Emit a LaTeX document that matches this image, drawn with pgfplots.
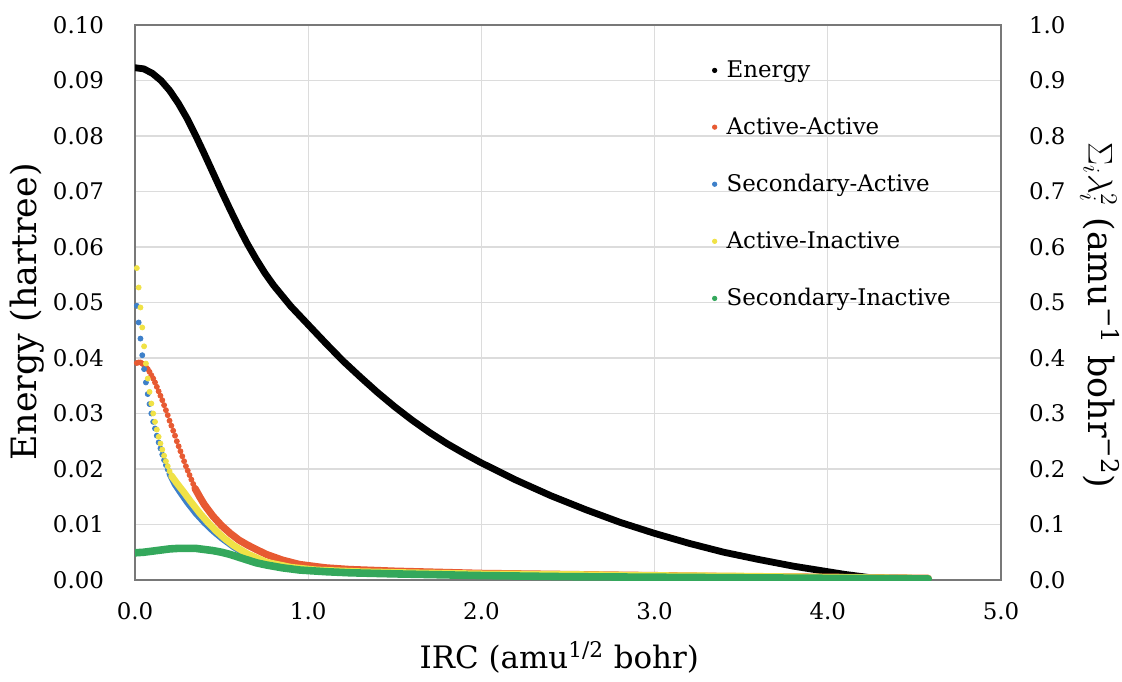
\documentclass[border=0pt]{standalone}
\usepackage{pgfplots}
\pgfplotsset{compat=1.18}
\usepackage{pgfplotstable}
\usepackage{fontspec}
\setmainfont{DejaVu Serif}
\definecolor{cRed}{RGB}{231,90,50}
\definecolor{cBlue}{RGB}{62,128,201}
\definecolor{cYel}{RGB}{240,226,70}
\definecolor{cGrn}{RGB}{52,168,92}
\definecolor{cGrid}{RGB}{220,220,220}
\definecolor{cFrame}{RGB}{120,120,120}

\pgfplotstableread{
x y
0.00 0.0923
0.05 0.0921
0.10 0.0913
0.15 0.0900
0.20 0.0882
0.25 0.0859
0.30 0.0832
0.35 0.0801
0.40 0.0768
0.45 0.0734
0.50 0.0700
0.55 0.0667
0.60 0.0635
0.65 0.0605
0.70 0.0578
0.75 0.0553
0.80 0.0531
0.90 0.0493
1.00 0.0460
1.10 0.0427
1.20 0.0395
1.30 0.0366
1.40 0.0338
1.50 0.0312
1.60 0.0288
1.70 0.0266
1.80 0.0246
1.90 0.0228
2.00 0.0211
2.20 0.0180
2.40 0.0152
2.60 0.0127
2.80 0.0104
3.00 0.0084
3.20 0.0066
3.40 0.0050
3.60 0.0037
3.80 0.0025
4.00 0.0015
4.10 0.0010
4.20 0.0006
4.30 0.0002
4.40 0.0000
4.58 0.0000
}\energy

\pgfplotstableread{
x y
0.0105 0.391
0.0210 0.392
0.0315 0.392
0.0420 0.390
0.0525 0.387
0.0630 0.384
0.0735 0.380
0.0840 0.375
0.0945 0.369
0.1050 0.363
0.1155 0.356
0.1260 0.348
0.1365 0.340
0.1470 0.332
0.1575 0.324
0.1680 0.315
0.1785 0.306
0.1890 0.297
0.1995 0.287
0.2100 0.278
0.2205 0.269
0.2310 0.260
0.2415 0.250
0.2520 0.241
0.2625 0.232
0.2730 0.223
0.2835 0.214
0.2940 0.205
0.3045 0.197
0.3150 0.189
0.3255 0.181
0.3360 0.173
0.3465 0.165
}\redDots

\pgfplotstableread{
x y
0.3465 0.165
0.375 0.149
0.40 0.136
0.45 0.115
0.50 0.098
0.55 0.084
0.60 0.072
0.65 0.063
0.70 0.055
0.76 0.046
0.85 0.036
0.95 0.028
1.10 0.022
1.24 0.019
1.50 0.016
2.00 0.012
2.50 0.010
3.00 0.008
3.50 0.006
4.00 0.005
4.58 0.003
}\redLine

\pgfplotstableread{
x y
0.0105 0.494
0.0210 0.464
0.0315 0.435
0.0420 0.405
0.0525 0.380
0.0630 0.356
0.0735 0.335
0.0840 0.317
0.0945 0.300
0.1050 0.285
0.1155 0.273
0.1260 0.260
0.1365 0.248
0.1470 0.237
0.1575 0.226
0.1680 0.216
0.1785 0.207
0.1890 0.199
0.1995 0.191
}\blueDots

\pgfplotstableread{
x y
0.1995 0.191
0.23 0.172
0.26 0.158
0.30 0.140
0.35 0.120
0.40 0.103
0.45 0.088
0.50 0.075
0.57 0.059
0.65 0.044
0.76 0.031
0.90 0.022
1.05 0.017
1.30 0.014
1.60 0.012
2.00 0.010
2.50 0.009
3.00 0.007
3.50 0.006
4.00 0.005
4.58 0.003
}\blueLine

\pgfplotstableread{
x y
0.0105 0.562
0.0210 0.527
0.0315 0.491
0.0420 0.455
0.0525 0.421
0.0630 0.390
0.0735 0.363
0.0840 0.339
0.0945 0.318
0.1050 0.300
0.1155 0.285
0.1260 0.271
0.1365 0.258
0.1470 0.246
0.1575 0.235
0.1680 0.224
0.1785 0.214
0.1890 0.205
0.1995 0.196
0.2100 0.188
}\yelDots

\pgfplotstableread{
x y
0.2100 0.188
0.24 0.175
0.28 0.159
0.32 0.142
0.375 0.120
0.42 0.104
0.47 0.088
0.52 0.074
0.57 0.062
0.65 0.047
0.76 0.032
0.90 0.023
1.05 0.018
1.30 0.015
1.60 0.013
2.00 0.011
2.50 0.010
3.00 0.008
3.50 0.007
4.00 0.005
4.58 0.003
}\yelLine

\pgfplotstableread{
x y
0.00 0.049
0.05 0.050
0.10 0.052
0.15 0.054
0.20 0.056
0.25 0.057
0.30 0.057
0.35 0.057
0.40 0.055
0.45 0.053
0.50 0.050
0.55 0.046
0.60 0.041
0.65 0.036
0.70 0.031
0.76 0.027
0.85 0.022
0.95 0.018
1.10 0.015
1.24 0.013
1.50 0.011
2.00 0.008
2.50 0.006
3.00 0.005
3.50 0.004
4.00 0.003
4.58 0.002
}\grnLine

\begin{document}
\begin{tikzpicture}
\path[use as bounding box] (0,0) rectangle (561bp,341bp);
\begin{axis}[
  at={(67.5bp,51bp)}, anchor=south west,
  scale only axis, width=433bp, height=277.5bp,
  xmin=0, xmax=5, ymin=0, ymax=0.1,
  xtick={0,1,2,3,4,5},
  ytick={0,0.01,0.02,0.03,0.04,0.05,0.06,0.07,0.08,0.09,0.1},
  grid=major,
  major grid style={draw=cGrid, line width=0.6bp},
  axis line style={draw=cFrame, line width=0.8bp},
  tick style={draw=none},
  xticklabel={\pgfmathprintnumber[fixed,fixed zerofill,precision=1,assume math mode=true]{\tick}},
  yticklabel={\pgfmathprintnumber[fixed,fixed zerofill,precision=2,assume math mode=true]{\tick}},
  ticklabel style={font=\fontsize{11.5}{13.5}\selectfont},
  xticklabel style={yshift=-7.5bp},
  yticklabel style={xshift=-12bp},
  xlabel={IRC (amu\textsuperscript{1/2} bohr)},
  ylabel={Energy (hartree)},
  xlabel style={font=\fontsize{15.5}{18}\selectfont, at={(axis description cs:0.49,-0.159)}, anchor=base},
  ylabel style={font=\fontsize{17.5}{20}\selectfont, at={(axis description cs:-0.125,0.483)}, anchor=center, rotate=0},
]
\addplot[black, line width=3.4bp, line join=round, line cap=round] table[x=x,y=y]{\energy};
\end{axis}
\begin{axis}[
  at={(67.5bp,51bp)}, anchor=south west,
  scale only axis, width=433bp, height=277.5bp,
  xmin=0, xmax=5, ymin=0, ymax=1,
  axis x line=none,
  axis y line*=right,
  axis line style={draw=cFrame, line width=0.8bp},
  ytick={0,0.1,0.2,0.3,0.4,0.5,0.6,0.7,0.8,0.9,1},
  tick style={draw=none},
  yticklabel={\pgfmathprintnumber[fixed,fixed zerofill,precision=1,assume math mode=true]{\tick}},
  ticklabel style={font=\fontsize{11.5}{13.5}\selectfont},
  yticklabel style={xshift=10.5bp},
  ylabel={$\Sigma_i\lambda_i^2$ (amu\textsuperscript{−1} bohr\textsuperscript{−2})},
  ylabel style={font=\fontsize{17.5}{20}\selectfont, at={(axis description cs:1.114,0.477)}, anchor=center, rotate=180},
  legend style={at={(axis description cs:0.659,0.951)}, anchor=north west, draw=none, fill=none,
    font=\fontsize{11.5}{13.5}\selectfont, row sep=14.5bp, legend cell align=left},
]
\addlegendimage{legend image code/.code={\fill[black] (0bp,0bp) circle (1.1bp); \path (3.8bp,0bp);}}
\addlegendentry{Energy}
\addlegendimage{legend image code/.code={\fill[cRed] (0bp,0bp) circle (1.1bp); \path (3.8bp,0bp);}}
\addlegendentry{Active-Active}
\addlegendimage{legend image code/.code={\fill[cBlue] (0bp,0bp) circle (1.1bp); \path (3.8bp,0bp);}}
\addlegendentry{Secondary-Active}
\addlegendimage{legend image code/.code={\fill[cYel] (0bp,0bp) circle (1.1bp); \path (3.8bp,0bp);}}
\addlegendentry{Active-Inactive}
\addlegendimage{legend image code/.code={\fill[cGrn] (0bp,0bp) circle (1.1bp); \path (3.8bp,0bp);}}
\addlegendentry{Secondary-Inactive}

\addplot[forget plot, cRed, line width=3.6bp, line join=round, line cap=round] table[x=x,y=y]{\redLine};
\addplot[forget plot, cRed, only marks, mark=*, mark size=1.25bp] table[x=x,y=y]{\redDots};
\addplot[forget plot, cBlue, line width=3.0bp, line join=round, line cap=round] table[x=x,y=y]{\blueLine};
\addplot[forget plot, cBlue, only marks, mark=*, mark size=1.25bp] table[x=x,y=y]{\blueDots};
\addplot[forget plot, cYel, line width=3.4bp, line join=round, line cap=round] table[x=x,y=y]{\yelLine};
\addplot[forget plot, cYel, only marks, mark=*, mark size=1.25bp] table[x=x,y=y]{\yelDots};
\addplot[forget plot, cGrn, line width=3.8bp, line join=round, line cap=round] table[x=x,y=y]{\grnLine};
\end{axis}
\end{tikzpicture}
\end{document}
